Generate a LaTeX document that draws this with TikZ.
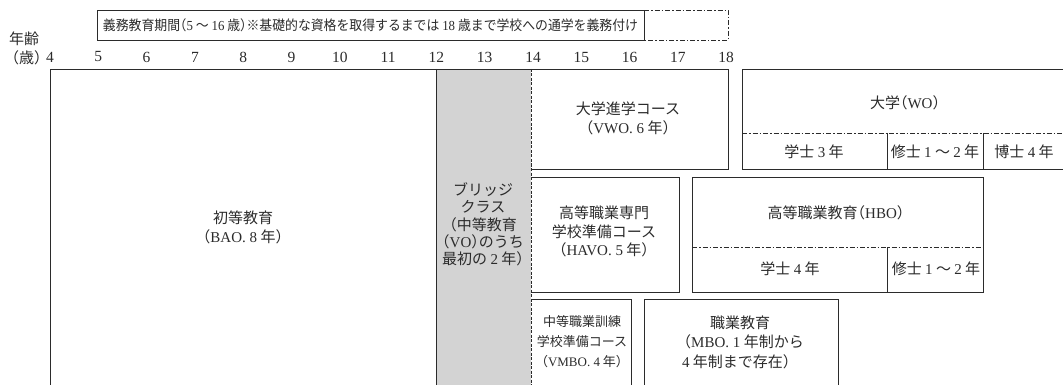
\documentclass[tikz,border=0pt]{standalone}
\usepackage{fontspec}
\setmainfont{Liberation Serif}
\newfontfamily\jp{Noto Sans CJK JP}
\newfontfamily\jph{Noto Sans CJK JP}[RawFeature=+halt]
\newcommand\LAT[1]{{\rmfamily #1}}
\newcommand\hl{{\jph （}}
\newcommand\hr{{\jph ）}}
\definecolor{ink}{HTML}{2B2B2B}
\definecolor{bridgegray}{HTML}{D3D3D3}
\tikzset{
  boxline/.style={draw=ink, line width=0.8pt},
  dashdotline/.style={draw=ink, line width=0.8pt, dash pattern=on 5pt off 2pt on 1.5pt off 2pt},
  finedash/.style={draw=ink, line width=0.8pt, dash pattern=on 3pt off 1.5pt},
  lbl/.style={text=ink, font=\jp\fontsize{15}{19}\selectfont, align=center, inner sep=0pt},
  smalllbl/.style={text=ink, font=\jp\fontsize{13}{20}\selectfont, align=center, inner sep=0pt},
  barlbl/.style={text=ink, font=\jp\fontsize{14}{16}\selectfont, inner sep=0pt},
  agenum/.style={text=ink, font=\rmfamily\fontsize{15.5}{18}\selectfont, inner sep=0pt}
}
\begin{document}
\begin{tikzpicture}[x=1pt,y=-1pt]
\useasboundingbox (0,0) rectangle (1063,385);
% compulsory education bar
\draw[boxline] (97,10) rectangle (644,40);
\draw[dashdotline] (644,10) -- (728,10) -- (728,40) -- (644,40);
\node[barlbl] (bar) at (370.5,25) {\resizebox{535pt}{11.8pt}{義務教育期間\hl\LAT{5} ～ \LAT{16} 歳\hr※基礎的な資格を取得するまでは \LAT{18} 歳まで学校への通学を義務付け}};
% age axis
\node[lbl, anchor=west] (nenrei) at (9,39) {年齢};
\node[lbl, anchor=west] (sai) at (4,58) {（歳）};
\foreach \a in {4,...,18}{
  \node[agenum] (age\a) at ({50+(\a-4)*48.3},57) {\a};
}
% bridge class (gray)
\fill[bridgegray] (436,69) rectangle (531,390);
% primary
\draw[boxline] (50,390) -- (50,69) -- (531,69);
\draw[boxline] (436,69) -- (436,390);
\draw[finedash] (531,69) -- (531,390);
% VWO
\draw[boxline] (531,69) -- (728,69) -- (728,169) -- (531,169);
% University
\draw[boxline] (1070,69) -- (742,69) -- (742,169) -- (1070,169);
\draw[dashdotline] (742,133) -- (1070,133);
\draw[boxline] (887,133) -- (887,169);
\draw[boxline] (983,133) -- (983,169);
% HAVO
\draw[boxline] (531,177) -- (679,177) -- (679,292) -- (531,292);
% HBO
\draw[boxline] (692,177) rectangle (983,292);
\draw[dashdotline] (692,247) -- (983,247);
\draw[boxline] (887,247) -- (887,292);
% VMBO
\draw[boxline] (531,299) -- (631,299) -- (631,390);
% MBO
\draw[boxline] (644,390) -- (644,299) -- (838,299) -- (838,390);
% labels
\node[lbl] (bao) at (243,227) {初等教育\\（\LAT{BAO. 8} 年）};
\node[lbl, font=\jp\fontsize{15}{17.3}\selectfont] (bridge) at (483,224.5) {ブリッジ\\クラス\\\hl 中等教育\\\hl\LAT{VO}\hr のうち\\最初の \LAT{2} 年\hr};
\node[lbl] (vwo) at (628,118.5) {大学進学コース\\（\LAT{VWO. 6} 年）};
\node[lbl] (wo) at (905,103) {大学\hl\LAT{WO}\hr};
\node[lbl] (wob) at (814,152) {学士 \LAT{3} 年};
\node[lbl] (wom) at (935,152) {修士 \LAT{1} ～ \LAT{2} 年};
\node[lbl] (wod) at (1024,152) {博士 \LAT{4} 年};
\node[lbl, font=\jp\fontsize{15}{18.5}\selectfont] (havo) at (604,231.5) {高等職業専門\\学校準備コース\\（\LAT{HAVO. 5} 年）};
\node[lbl] (hbo) at (836,213) {高等職業教育\hl\LAT{HBO}\hr};
\node[lbl] (hbob) at (790,269) {学士 \LAT{4} 年};
\node[lbl] (hbom) at (936,269) {修士 \LAT{1} ～ \LAT{2} 年};
\node[smalllbl] (vmbo) at (582,342) {中等職業訓練\\学校準備コース\\（\LAT{VMBO. 4} 年）};
\node[lbl, font=\jp\fontsize{15}{19.5}\selectfont] (mbo) at (740,342) {職業教育\\（\LAT{MBO. 1} 年制から\\\LAT{4} 年制まで存在）};
\end{tikzpicture}
\end{document}
